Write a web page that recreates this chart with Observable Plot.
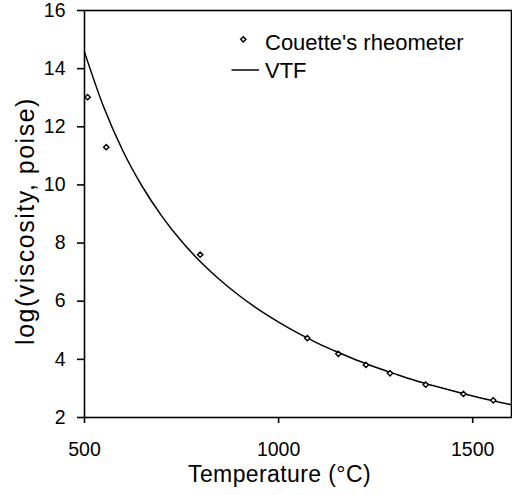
<!DOCTYPE html>
<html>
<head>
<meta charset="utf-8">
<script src="https://cdn.jsdelivr.net/npm/d3@7"></script>
<script src="https://cdn.jsdelivr.net/npm/@observablehq/plot@0.6"></script>
<style>
  html, body { margin: 0; padding: 0; background: #fff; }
  #wrap { position: relative; width: 512px; height: 495px; font-family: "Liberation Sans", Arial, sans-serif; }
  #legend { position: absolute; left: 0; top: 0; pointer-events: none; }
</style>
</head>
<body>
<div id="wrap"></div>
<script>
// Measured points (Couette's rheometer)
const obsTemp = [508, 556, 798, 1074, 1154, 1225, 1287, 1379, 1476, 1553];
const obsLogVisc = [13.02, 11.30, 7.60, 4.73, 4.19, 3.81, 3.52, 3.13, 2.81, 2.59];

// VTF curve
const vtfTemp = [500, 550, 600, 650, 700, 750, 800, 850, 900, 950, 1000, 1050, 1100, 1150, 1200, 1250, 1300, 1350, 1400, 1450, 1500, 1550, 1600];
const vtfLogVisc = [14.57, 12.66, 11.14, 9.92, 8.91, 8.06, 7.34, 6.72, 6.18, 5.70, 5.28, 4.90, 4.56, 4.26, 3.98, 3.73, 3.50, 3.28, 3.09, 2.91, 2.74, 2.58, 2.44];

const xTicks = [500, 1000, 1500];
const yTicks = [2, 4, 6, 8, 10, 12, 14, 16];

const legendLabels = ["Couette's rheometer", "VTF"];
const xTitle = "Temperature (°C)";
const yTitle = "log(viscosity, poise)";

const obs = obsTemp.map((t, i) => ({t, v: obsLogVisc[i]}));
const vtf = vtfTemp.map((t, i) => ({t, v: vtfLogVisc[i]}));

const font = "'Liberation Sans', Arial, sans-serif";

const chart = Plot.plot({
  width: 512,
  height: 495,
  marginLeft: 84,
  marginRight: 1,
  marginTop: 10,
  marginBottom: 78,
  style: {fontFamily: font, fontSize: "19.5px", color: "#000", background: "#fff", overflow: "visible"},
  x: {domain: [500, 1600]},
  y: {domain: [2, 16]},
  marks: [
    Plot.axisX({ticks: xTicks, tickFormat: d3.format("d"), tickSize: 6, tickPadding: 18.5, fontSize: 19.5, label: null, strokeWidth: 1.6, stroke: "#000"}),
    Plot.axisY({ticks: yTicks, tickFormat: d3.format("d"), tickSize: 7, tickPadding: 12, fontSize: 19.5, label: null, strokeWidth: 1.6, stroke: "#000"}),
    Plot.frame({stroke: "#000", strokeWidth: 1.6}),
    Plot.line(vtf, {x: "t", y: "v", stroke: "#000", strokeWidth: 1.5, curve: "monotone-x"}),
    Plot.dot(obs, {x: "t", y: "v", symbol: "diamond2", r: 2.4, stroke: "#000", fill: "#fff", strokeWidth: 1.4}),
    Plot.text([xTitle], {frameAnchor: "bottom", dx: -18.5, dy: 57.5, fontSize: 23, textAnchor: "middle", lineAnchor: "middle", fill: "#000"}),
    Plot.text([yTitle], {frameAnchor: "left", dx: -59, dy: 7, rotate: -90, fontSize: 25, textAnchor: "middle", lineAnchor: "middle", fill: "#000"})
  ]
});
chart.querySelectorAll("text").forEach(t => {
  if (t.textContent === xTitle) t.setAttribute("letter-spacing", "0.4");
  if (t.textContent === yTitle) t.setAttribute("letter-spacing", "1.5");
});
const wrap = document.getElementById("wrap");
wrap.appendChild(chart);

// Legend overlay
const ns = "http://www.w3.org/2000/svg";
const lg = document.createElementNS(ns, "svg");
lg.setAttribute("id", "legend");
lg.setAttribute("width", 512);
lg.setAttribute("height", 100);
const sym = d3.symbol(d3.symbolDiamond2, 18)();
lg.innerHTML = `
  <path d="${sym}" transform="translate(243.3,39.3)" fill="#fff" stroke="#000" stroke-width="1.4"></path>
  <text x="265" y="50.3" font-size="22" font-family="${font}" fill="#000">${legendLabels[0]}</text>
  <line x1="231.5" x2="259" y1="70" y2="70" stroke="#000" stroke-width="1.5"></line>
  <text x="265" y="77.8" font-size="22" font-family="${font}" fill="#000">${legendLabels[1]}</text>
`;
wrap.appendChild(lg);
</script>
</body>
</html>
